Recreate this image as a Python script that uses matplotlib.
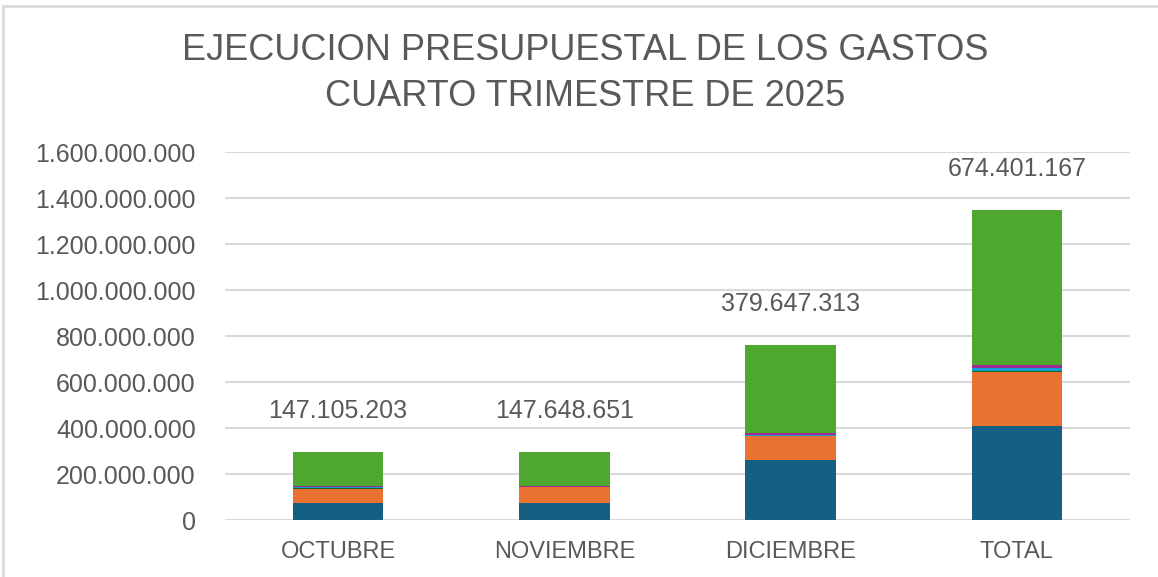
import matplotlib
matplotlib.use("Agg")
import matplotlib.pyplot as plt
from matplotlib.patches import Rectangle
from matplotlib.ticker import FuncFormatter

# Data (pesos)
meses = ["OCTUBRE", "NOVIEMBRE", "DICIEMBRE", "TOTAL"]
gastos_personal = [74000000, 74500000, 262000000, 410500000]
bienes_servicios = [60000000, 69000000, 103000000, 232000000]
transferencias = [3000000, 800000, 2000000, 5800000]
otros_gastos = [6000000, 500000, 4500000, 11000000]
inversion = [4105203, 2848651, 8147313, 15101167]
total_ejecutado = [147105203, 147648651, 379647313, 674401167]

series = [gastos_personal, bienes_servicios, transferencias, otros_gastos, inversion, total_ejecutado]
colores = ["#156082", "#E97132", "#196B24", "#0F9ED5", "#A02B93", "#4EA72E"]

plt.rcParams["font.family"] = ["Liberation Sans", "DejaVu Sans"]
texto = "#595959"

fig = plt.figure(figsize=(11.58, 5.77), dpi=100)
ax = fig.add_axes([225 / 1158, 1 - 520 / 577, 905 / 1158, 368 / 577])

x = list(range(len(meses)))
base = [0] * len(meses)
for vals, col in zip(series, colores):
    ax.bar(x, vals, width=0.4, bottom=base, color=col, edgecolor="none", zorder=3)
    base = [b + v for b, v in zip(base, vals)]

for xi, top, lab in zip(x, base, total_ejecutado):
    ax.annotate(f"{lab:,}".replace(",", "."), (xi, top), xytext=(0, 21),
                textcoords="offset points", ha="center", va="bottom",
                fontsize=18, color=texto)

ax.set_xlim(-0.5, 3.5)
ax.set_ylim(0, 1600000000)
ax.set_yticks(range(0, 1600000001, 200000000))
ax.yaxis.set_major_formatter(FuncFormatter(lambda v, p: f"{int(v):,}".replace(",", ".")))
ax.set_xticks(x)
ax.set_xticklabels(meses)
ax.tick_params(axis="both", length=0, colors=texto)
ax.tick_params(axis="x", pad=15, labelsize=17)
ax.tick_params(axis="y", pad=21, labelsize=18)
ax.grid(axis="y", color="#D9D9D9", linewidth=1.5, zorder=0)
for s in ax.spines.values():
    s.set_visible(False)

fig.text(585 / 1158, 1 - 50 / 577, "EJECUCION PRESUPUESTAL DE LOS GASTOS",
         ha="center", va="center", fontsize=26, color=texto)
fig.text(585 / 1158, 1 - 97 / 577, "CUARTO TRIMESTRE DE 2025",
         ha="center", va="center", fontsize=26, color=texto)

fig.patches.append(Rectangle((3 / 1158, -0.1), 1.2, 1 - 6 / 577 + 0.1,
                             transform=fig.transFigure, fill=False,
                             edgecolor="#D9D9D9", linewidth=2))

fig.savefig("out.png", dpi=100)
